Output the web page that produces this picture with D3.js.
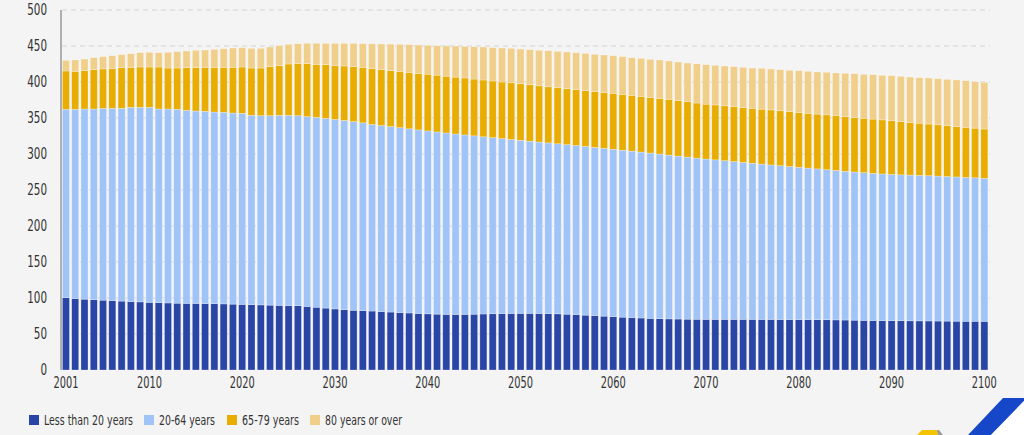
<!DOCTYPE html>
<html>
<head>
<meta charset="utf-8">
<script src="https://cdn.jsdelivr.net/npm/d3@7"></script>
<style>
  html, body { margin: 0; padding: 0; background: #f4f4f4; }
  svg { display: block; }
  text { font-family: "DejaVu Sans", sans-serif; font-stretch: condensed; fill: #333333; }
</style>
</head>
<body>
<svg id="chart" width="1024" height="435"></svg>
<script>
const years = d3.range(2001, 2101);
const seriesNames = ["Less than 20 years", "20-64 years", "65-79 years", "80 years or over"];
const colors = ["#2945a6", "#a0c4f8", "#e8ad00", "#f0cf8b"];
const yTicks = [0, 50, 100, 150, 200, 250, 300, 350, 400, 450, 500];
const xTickLabels = [2001, 2010, 2020, 2030, 2040, 2050, 2060, 2070, 2080, 2090, 2100];

const under20 = [
 100.4, 99.3, 98.4, 97.6, 97.0, 96.3, 95.7, 95.1, 94.6, 94.0,
 93.5, 93.1, 92.8, 92.6, 92.5, 92.3, 92.1, 91.8, 91.5, 91.2,
 90.8, 90.4, 90.1, 89.8, 89.5, 89.3, 88.3, 87.2, 86.0, 84.8,
 83.8, 83.0, 82.4, 81.9, 81.2, 80.5, 79.8, 79.2, 78.6, 78.0,
 77.6, 77.3, 77.2, 77.3, 77.5, 77.8, 78.1, 78.4, 78.6, 78.7,
 78.7, 78.6, 78.4, 78.0, 77.5, 76.9, 76.2, 75.5, 74.8, 74.1,
 73.4, 72.8, 72.2, 71.7, 71.3, 71.0, 70.8, 70.6, 70.5, 70.4,
 70.4, 70.4, 70.4, 70.4, 70.4, 70.3, 70.3, 70.2, 70.2, 70.1,
 70.0, 69.9, 69.8, 69.6, 69.4, 69.2, 69.0, 68.8, 68.6, 68.5,
 68.4, 68.3, 68.2, 68.1, 68.0, 67.9, 67.8, 67.7, 67.7, 67.6
];
const age20to64 = [
 261.6, 262.7, 264.1, 264.9, 266.4, 267.1, 267.7, 269.7, 270.2, 270.8,
 269.0, 269.4, 269.2, 268.0, 267.2, 267.0, 266.2, 266.1, 265.4, 265.3,
 262.9, 262.8, 263.1, 263.9, 264.2, 263.9, 263.6, 263.7, 263.5, 263.3,
 262.8, 262.0, 260.9, 259.1, 258.3, 257.5, 256.7, 255.8, 254.9, 254.0,
 253.0, 251.9, 250.6, 249.2, 247.7, 246.1, 244.6, 243.0, 241.6, 240.3,
 239.1, 238.0, 237.0, 236.2, 235.5, 234.9, 234.3, 233.7, 233.1, 232.5,
 231.9, 231.2, 230.5, 229.6, 228.6, 227.5, 226.3, 225.1, 223.8, 222.6,
 221.5, 220.3, 219.1, 217.9, 216.8, 215.7, 214.5, 213.5, 212.4, 211.4,
 210.4, 209.4, 208.4, 207.5, 206.6, 205.8, 205.0, 204.3, 203.7, 203.1,
 202.7, 202.4, 202.1, 201.7, 201.3, 200.8, 200.3, 199.8, 199.2, 198.7
];
const age65to79 = [
 53.3, 52.8, 53.2, 54.6, 54.7, 55.1, 56.5, 55.6, 56.0, 56.0,
 58.3, 56.9, 57.4, 59.3, 60.2, 61.1, 62.1, 62.5, 63.5, 64.3,
 65.7, 66.2, 68.1, 69.0, 71.3, 72.3, 73.6, 73.6, 74.6, 75.0,
 75.6, 76.3, 77.1, 77.8, 77.6, 77.8, 78.1, 78.4, 78.5, 78.9,
 78.9, 78.9, 79.0, 79.1, 78.9, 78.9, 78.7, 78.6, 78.7, 78.5,
 78.3, 78.1, 77.9, 77.8, 77.6, 77.6, 77.7, 77.7, 77.6, 77.7,
 77.6, 77.5, 77.4, 77.4, 77.4, 77.4, 77.2, 76.9, 76.5, 76.2,
 76.2, 76.2, 76.3, 76.3, 76.3, 76.3, 76.4, 76.3, 76.3, 76.2,
 76.2, 76.1, 76.1, 76.0, 76.0, 75.8, 75.7, 75.4, 75.1, 74.6,
 74.0, 73.2, 72.5, 71.8, 71.2, 70.6, 70.1, 69.5, 69.0, 68.4
];
const age80plus = [
 14.8, 15.8, 16.2, 16.7, 17.1, 18.1, 18.1, 19.0, 19.9, 20.4,
 19.9, 21.8, 22.7, 23.2, 24.1, 24.0, 25.0, 25.9, 26.8, 26.9,
 27.4, 27.4, 27.3, 27.8, 27.3, 27.7, 28.2, 29.2, 29.6, 30.6,
 31.5, 32.4, 32.8, 34.2, 35.7, 36.8, 37.7, 38.5, 39.4, 40.0,
 41.0, 42.1, 43.2, 43.9, 45.0, 45.8, 46.3, 47.2, 47.9, 48.3,
 48.8, 49.3, 50.2, 50.6, 51.1, 51.3, 51.6, 51.5, 52.0, 52.3,
 52.3, 52.3, 52.8, 52.8, 53.3, 53.3, 53.5, 53.8, 54.5, 54.9,
 55.0, 55.3, 55.5, 55.8, 55.9, 56.7, 56.9, 57.1, 57.3, 58.0,
 58.2, 58.5, 59.1, 59.4, 60.0, 60.8, 60.9, 61.7, 61.9, 62.6,
 62.8, 63.0, 63.2, 64.0, 64.1, 64.4, 64.6, 64.9, 64.6, 64.8
];

const seriesValues = [under20, age20to64, age65to79, age80plus];
const table = years.map((yr, i) => {
  const row = { year: yr };
  seriesNames.forEach((k, s) => { row[k] = seriesValues[s][i]; });
  return row;
});

const svg = d3.select("#chart");
const x = d3.scaleBand().domain(years).range([61.3, 989]).paddingInner(0.24).paddingOuter(0.12);
const y = d3.scaleLinear().domain([0, 500]).range([370, 10]);

// fit a text element into a target width if the available font renders it wider
function fit(sel, target) {
  sel.each(function () {
    const w = this.getComputedTextLength();
    if (w > target * 1.04) {
      d3.select(this).attr("textLength", target).attr("lengthAdjust", "spacingAndGlyphs");
    }
  });
}

// gridlines
svg.append("g").selectAll("line").data(yTicks.filter(d => d > 0)).join("line")
  .attr("x1", 62).attr("x2", 990)
  .attr("y1", d => y(d)).attr("y2", d => y(d))
  .attr("stroke", "#d4d4d4").attr("stroke-width", 1)
  .attr("stroke-dasharray", "5,4");

// bars
const stacked = d3.stack().keys(seriesNames)(table);
svg.append("g").selectAll("g").data(stacked).join("g")
  .attr("fill", (d, i) => colors[i])
  .selectAll("rect").data(d => d).join("rect")
  .attr("x", d => x(d.data.year))
  .attr("width", x.bandwidth())
  .attr("y", d => y(d[1]))
  .attr("height", d => y(d[0]) - y(d[1]))
  .attr("stroke", "#ffffff").attr("stroke-opacity", 0.45).attr("stroke-width", 0.6);

// y axis line
svg.append("line").attr("x1", 61).attr("x2", 61).attr("y1", y(500)).attr("y2", y(0))
  .attr("stroke", "#b0b0b0").attr("stroke-width", 2);

// y labels
const yAxis = d3.axisLeft(y).tickValues(yTicks).tickSize(0).tickPadding(0);
const yg = svg.append("g").attr("transform", "translate(47,0)").call(yAxis);
yg.select(".domain").remove();
yg.selectAll("text").attr("font-size", 15).attr("fill", "#333333").style("font-family", null);
yg.selectAll("text").each(function () {
  const t = d3.select(this); fit(t, t.text().length * 6.6);
});

// x labels
const xAxis = d3.axisBottom(x).tickValues(xTickLabels).tickSize(0).tickPadding(0);
const xg = svg.append("g").attr("transform", "translate(0,377)").call(xAxis);
xg.select(".domain").remove();
xg.selectAll("text").attr("font-size", 15).attr("fill", "#333333").style("font-family", null);
xg.selectAll("text").each(function () { fit(d3.select(this), 25); });

// legend
const legendX = [29, 144, 227, 310];
const legendW = [89, 56, 57, 77];
const lg = svg.append("g");
seriesNames.forEach((name, i) => {
  lg.append("rect").attr("x", legendX[i]).attr("y", 415).attr("width", 10).attr("height", 10).attr("fill", colors[i]);
  const t = lg.append("text").attr("x", legendX[i] + 15).attr("y", 425).attr("font-size", 14).text(name);
  fit(t, legendW[i]);
});

// logo decoration (bottom right)
svg.append("polygon").attr("points", "1003,398 1024,398 1024,401 991,435 968,435").attr("fill", "#1747c9");
svg.append("polygon").attr("points", "1024,401 1024,435 991,435").attr("fill", "#ffffff");
svg.append("polygon").attr("points", "917,435 922,430 937,430 938,435").attr("fill", "#f5c400");
svg.append("polygon").attr("points", "937,430 939,430 943,435 938,435").attr("fill", "#9a9a9a");
</script>
</body>
</html>
